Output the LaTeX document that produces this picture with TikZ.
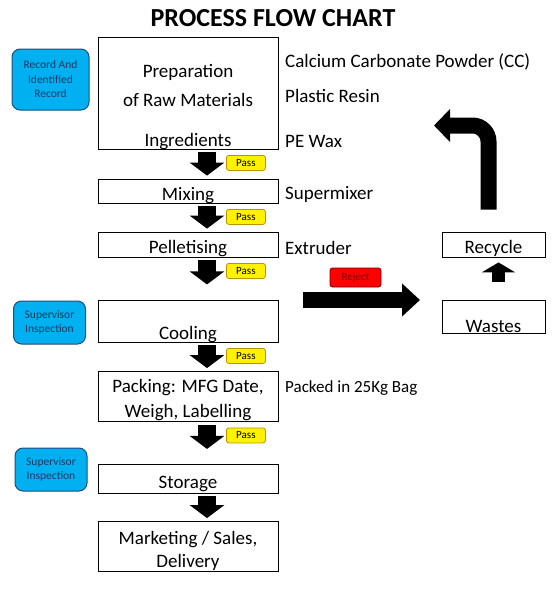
\documentclass[tikz,border=0pt]{standalone}
\usepackage{fontspec}
\setmainfont{Carlito}
\usetikzlibrary{arrows.meta,positioning}
\definecolor{infoblue}{HTML}{00B0F0}
\definecolor{infoline}{HTML}{1F4E79}
\definecolor{infotext}{HTML}{1F3864}
\definecolor{passline}{HTML}{BF9000}
\definecolor{rejectline}{HTML}{7F0000}
\definecolor{rejecttext}{HTML}{800000}

\begin{document}
\begin{tikzpicture}[
    x=1pt,y=-1pt,
    stage/.style={
      draw,
      line width=0.8pt,
      minimum width=180pt,
      inner sep=0pt
    },
    words/.style={
      inner sep=0pt,
      align=center,
      font=\fontsize{19}{24.5}\selectfont
    },
    note/.style={
      words,
      anchor=west
    },
    info/.style={
      draw=infoline,
      fill=infoblue,
      line width=1pt,
      rounded corners=8pt,
      inner sep=0pt,
      align=center,
      text=infotext,
      font=\fontsize{11.5}{14.5}\selectfont
    },
    pass/.style={
      draw=passline,
      fill=yellow,
      line width=0.8pt,
      rounded corners=2.5pt,
      minimum width=39pt,
      minimum height=15pt,
      inner sep=0pt,
      font=\fontsize{11}{12}\selectfont
    },
    reject/.style={
      draw=rejectline,
      fill=red,
      line width=0.8pt,
      rounded corners=2.5pt,
      minimum width=51pt,
      minimum height=19pt,
      inner sep=0pt,
      text=rejecttext,
      font=\fontsize{11}{12}\selectfont
    },
    flow/.style={
      line width=18pt,
      -{Triangle[length=13pt,width=34pt]}
    }
  ]
    \useasboundingbox (0,0) rectangle (553,600);

    \node[font=\bfseries\fontsize{26}{28}\selectfont] (title) at (273,18) {PROCESS FLOW CHART};

    % main column
    \node[stage,minimum height=112pt] (prep) at (188,93) {};
    \node[words] (prep-a) at (188,72) {Preparation};
    \node[words] (prep-b) at (188,100) {of Raw Materials};
    \node[words] (prep-c) at (188,142) {Ingredients};
    \node[stage,minimum height=24pt] (mix) at (188,191) {};
    \node[words] (mix-t) at (188,196) {Mixing};
    \node[stage,minimum height=25pt] (pel) at (188,244.5) {};
    \node[words] (pel-t) at (188,249) {Pelletising};
    \node[stage,minimum height=42pt] (cool) at (188,321) {};
    \node[words] (cool-t) at (188,335) {Cooling};
    \node[stage,minimum height=50pt] (pack) at (188,396.5) {};
    \node[words] (pack-t) at (188,400) {Packing: MFG Date,\\Weigh, Labelling};
    \node[stage,minimum height=29pt] (store) at (188,478.5) {};
    \node[words] (store-t) at (188,483.5) {Storage};
    \node[stage,minimum height=50pt] (market) at (188,546.5) {};
    \node[words,font=\fontsize{19}{23.5}\selectfont] (market-t) at (188,551) {Marketing / Sales,\\Delivery};

    % notes on the right
    \node[note] (cc) at (285,62) {Calcium Carbonate Powder (CC)};
    \node[note] (resin) at (285,96) {Plastic Resin};
    \node[note] (wax) at (285,141) {PE Wax};
    \node[note] (mixer) at (285,194.5) {Supermixer};
    \node[note] (extruder) at (285,248) {Extruder};
    \node[note,font=\fontsize{17}{20}\selectfont] (bag) at (285,388) {Packed in 25Kg Bag};

    % checks
    \node[info,minimum width=77pt,minimum height=61pt] (rec) at (50.5,79.5) {Record And\\Identified\\Record};
    \node[info,minimum width=72pt,minimum height=43pt] (sup-a) at (49.5,322.5) {Supervisor\\Inspection};
    \node[info,minimum width=72pt,minimum height=43pt] (sup-b) at (51,469.5) {Supervisor\\Inspection};

    % waste loop
    \node[stage,minimum width=103pt,minimum height=25pt] (recycle) at (493.5,244.5) {};
    \node[words] (recycle-t) at (493.5,248.5) {Recycle};
    \node[stage,minimum width=103pt,minimum height=33pt] (wastes) at (493.5,316.5) {};
    \node[words] (wastes-t) at (493.5,326) {Wastes};

    % flow arrows
    \foreach \a/\b in {prep/mix,mix/pel,cool/pack,store/market}
      \draw[flow,shorten <=3pt,shorten >=3pt] ([xshift=19pt]\a.south) -- ([xshift=19pt]\b.north);
    \foreach \a in {pel,pack}
      \draw[flow] ([xshift=19pt,yshift=-3pt]\a.south) -- ++(0,24);

    \foreach \a in {prep,mix,pel,cool,pack}
      \node[pass,anchor=west] (pass-\a) at ([xshift=38pt,yshift=-13.5pt]\a.south) {Pass};

    % reject
    \coordinate (rej-s) at (303,300);
    \coordinate (rej-e) at (420,300);
    \draw[line width=16pt,-{Triangle[length=18pt,width=32pt]}] (rej-s) -- (rej-e);
    \node[reject] (rej) at (355.5,277.5) {Reject};

    \draw[line width=13pt,-{Triangle[length=10pt,width=33pt]},shorten <=18pt,shorten >=5pt]
      ([xshift=5pt]wastes.north) -- ([xshift=5pt]recycle.south);

    \coordinate (back) at (434,125.5);
    \draw[line width=16pt,rounded corners=16pt,-{Triangle[length=16pt,width=32pt]}]
      ([xshift=-5pt,yshift=22pt]recycle.north) |- (back);
  \end{tikzpicture}
\end{document}
